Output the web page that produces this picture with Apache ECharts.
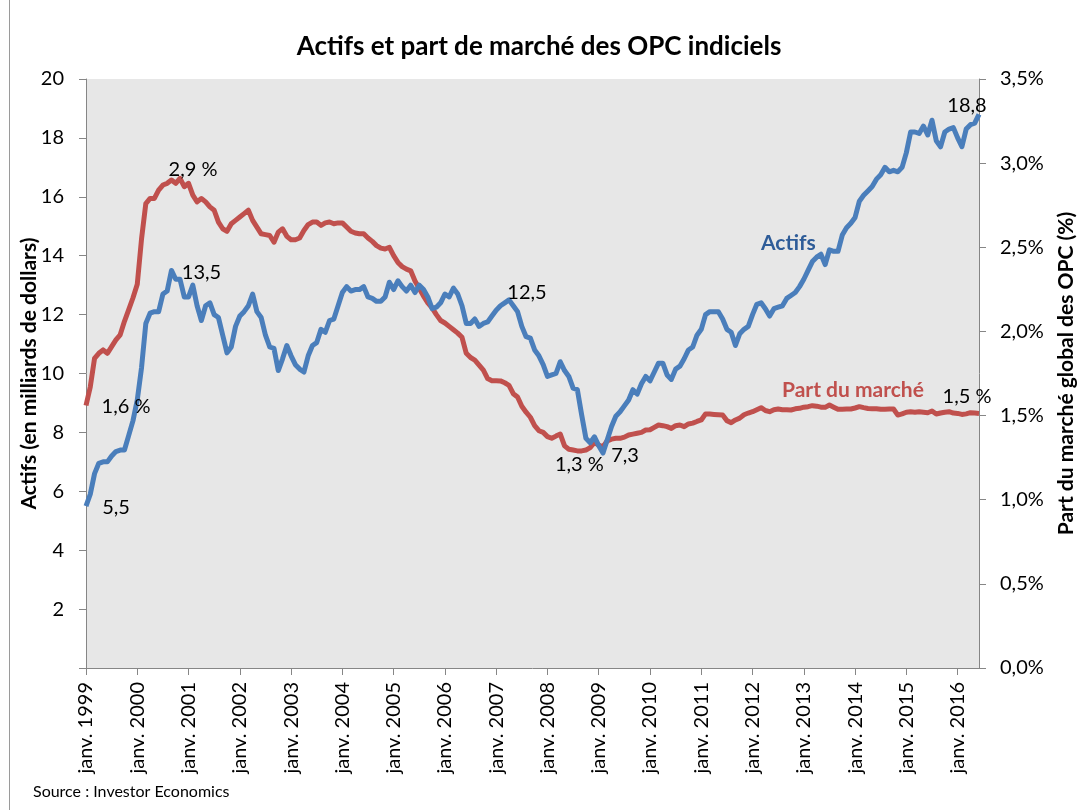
<!DOCTYPE html>
<html>
<head>
<meta charset="utf-8">
<script src="https://cdn.jsdelivr.net/npm/echarts@6/dist/echarts.min.js"></script>
<style>
  html, body { margin: 0; padding: 0; background: #fff; }
  #chart { width: 1078px; height: 810px; }
</style>
</head>
<body>
<div id="chart"></div>
<script>
// mois (seule janvier est affiché sur l'axe)
var monthNames = ['janv.', 'févr.', 'mars', 'avr.', 'mai', 'juin', 'juil.', 'août', 'sept.', 'oct.', 'nov.', 'déc.'];
var startYear = 1999;
var monthCount = 210; // janv. 1999 -> juin 2016

// Actifs (en milliards de dollars), mensuel
var actifs = [
  5.5, 5.9, 6.6, 6.95, 7.0, 7.0, 7.2, 7.35, 7.4, 7.4, 7.9, 8.4,
  9.1, 10.2, 11.7, 12.05, 12.1, 12.1, 12.7, 12.8, 13.5, 13.2, 13.2, 12.6,
  12.6, 13.0, 12.3, 11.8, 12.3, 12.4, 12.0, 11.9, 11.3, 10.7, 10.9, 11.6,
  11.95, 12.1, 12.3, 12.7, 12.1, 11.9, 11.3, 10.9, 10.85, 10.1, 10.5, 10.95,
  10.6, 10.3, 10.15, 10.05, 10.6, 10.95, 11.05, 11.5, 11.4, 11.8, 11.85, 12.3,
  12.75, 12.95, 12.8, 12.85, 12.85, 12.95, 12.6, 12.55, 12.45, 12.45, 12.6, 13.1,
  12.85, 13.15, 12.95, 12.8, 13.0, 12.75, 13.0, 12.85, 12.6, 12.2, 12.25, 12.4,
  12.7, 12.6, 12.9, 12.7, 12.3, 11.7, 11.7, 11.85, 11.6, 11.7, 11.75, 11.95,
  12.15, 12.3, 12.4, 12.5, 12.3, 12.1, 11.6, 11.25, 11.2, 10.8, 10.6, 10.3,
  9.9, 9.95, 10.0, 10.4, 10.1, 9.9, 9.5, 9.45, 8.6, 7.8, 7.65, 7.85,
  7.55, 7.3, 7.75, 8.2, 8.55, 8.7, 8.9, 9.1, 9.45, 9.3, 9.65, 9.9,
  9.75, 10.05, 10.35, 10.35, 9.95, 9.8, 10.15, 10.25, 10.5, 10.8, 10.9, 11.3,
  11.5, 12.0, 12.1, 12.1, 12.1, 11.85, 11.5, 11.4, 10.95, 11.35, 11.5, 11.6,
  12.0, 12.35, 12.4, 12.2, 11.95, 12.2, 12.25, 12.3, 12.55, 12.65, 12.75, 12.95,
  13.2, 13.5, 13.8, 13.95, 14.05, 13.7, 14.2, 14.15, 14.15, 14.7, 14.95, 15.1,
  15.3, 15.85, 16.05, 16.2, 16.35, 16.6, 16.75, 17.0, 16.85, 16.9, 16.85, 17.0,
  17.5, 18.2, 18.2, 18.15, 18.4, 18.1, 18.6, 17.9, 17.7, 18.2, 18.3, 18.35,
  18.0, 17.7, 18.3, 18.45, 18.5, 18.8
];

// Part du marché global des OPC (%), mensuel
var partMarche = [
  1.56, 1.67, 1.84, 1.87, 1.89, 1.87, 1.91, 1.95, 1.98, 2.06, 2.13, 2.20,
  2.28, 2.55, 2.76, 2.79, 2.79, 2.84, 2.87, 2.88, 2.90, 2.88, 2.91, 2.86,
  2.88, 2.81, 2.77, 2.79, 2.77, 2.74, 2.72, 2.65, 2.61, 2.595, 2.64, 2.66,
  2.68, 2.70, 2.72, 2.66, 2.62, 2.58, 2.575, 2.57, 2.53, 2.59, 2.61, 2.565,
  2.545, 2.545, 2.555, 2.60, 2.635, 2.65, 2.65, 2.63, 2.645, 2.65, 2.64, 2.645,
  2.645, 2.62, 2.595, 2.585, 2.58, 2.58, 2.555, 2.535, 2.51, 2.495, 2.49, 2.50,
  2.45, 2.41, 2.385, 2.37, 2.36, 2.30, 2.255, 2.21, 2.17, 2.14, 2.10, 2.065,
  2.05, 2.03, 2.01, 1.99, 1.965, 1.87, 1.845, 1.83, 1.80, 1.77, 1.72, 1.707,
  1.707, 1.706, 1.695, 1.68, 1.63, 1.61, 1.555, 1.52, 1.49, 1.44, 1.41, 1.40,
  1.375, 1.365, 1.378, 1.39, 1.32, 1.30, 1.295, 1.29, 1.29, 1.295, 1.31, 1.34,
  1.325, 1.315, 1.35, 1.36, 1.365, 1.365, 1.372, 1.385, 1.39, 1.395, 1.40, 1.414,
  1.416, 1.43, 1.444, 1.44, 1.434, 1.424, 1.44, 1.444, 1.434, 1.45, 1.455, 1.465,
  1.474, 1.51, 1.509, 1.507, 1.505, 1.503, 1.47, 1.458, 1.474, 1.485, 1.505, 1.515,
  1.523, 1.535, 1.547, 1.53, 1.523, 1.535, 1.539, 1.535, 1.535, 1.533, 1.54, 1.543,
  1.55, 1.553, 1.559, 1.556, 1.55, 1.549, 1.563, 1.55, 1.537, 1.538, 1.539, 1.539,
  1.545, 1.553, 1.547, 1.542, 1.541, 1.54, 1.537, 1.538, 1.539, 1.539, 1.503, 1.51,
  1.52, 1.523, 1.52, 1.523, 1.52, 1.517, 1.527, 1.509, 1.515, 1.52, 1.523, 1.515,
  1.513, 1.507, 1.51, 1.517, 1.515, 1.513
];

// points étiquetés [index, décalage x, décalage y]
var actifsLabels = [[0, 30, 2], [20, 30, 2], [99, 18, -7], [121, 22, 3], [209, -12, -9]];
var partLabels = [[0, 40, 1], [22, 13, -9], [115, 2, 14], [209, -12, -17]];

var categories = [];
for (var i = 0; i < monthCount; i++) {
  categories.push(monthNames[i % 12] + ' ' + (startYear + Math.floor(i / 12)));
}

var FONT = 'Lato';
var axisGray = '#868686';

function fr(v) {
  return v.toFixed(1).replace('.', ',');
}

var chart = echarts.init(document.getElementById('chart'));
chart.setOption({
  animation: false,
  backgroundColor: '#fff',
  textStyle: { fontFamily: FONT },
  title: {
    text: 'Actifs et part de marché des OPC indiciels',
    left: 'center',
    top: 29,
    textStyle: { fontFamily: FONT, fontSize: 26, fontWeight: 'bold', color: '#000' }
  },
  grid: {
    left: 86,
    right: 99,
    top: 79,
    bottom: 142,
    outerBoundsMode: 'none',
    containLabel: false,
    show: true,
    backgroundColor: '#e7e7e7',
    borderWidth: 0
  },
  xAxis: {
    type: 'category',
    data: categories,
    boundaryGap: false,
    axisLine: { lineStyle: { color: axisGray, width: 1 } },
    axisTick: {
      show: true,
      length: 7,
      interval: function (idx) { return idx % 12 === 0; },
      lineStyle: { color: axisGray }
    },
    axisLabel: {
      interval: function (idx) { return idx % 12 === 0; },
      rotate: 90,
      margin: 14,
      fontSize: 20,
      color: '#000',
      fontFamily: FONT,
      hideOverlap: false
    },
    splitLine: { show: false }
  },
  yAxis: [{
    type: 'value',
    min: 0,
    max: 20,
    interval: 2,
    name: 'Actifs (en milliards de dollars)',
    nameLocation: 'middle',
    nameRotate: 90,
    nameGap: 46,
    nameMoveOverlap: false,
    nameTextStyle: { fontFamily: FONT, fontSize: 21, fontWeight: 'bold', color: '#000' },
    axisLine: { show: true, lineStyle: { color: axisGray } },
    axisTick: { show: true, length: 7, lineStyle: { color: axisGray } },
    axisLabel: {
      margin: 22,
      fontSize: 20,
      color: '#000',
      formatter: function (v) { return v === 0 ? '' : String(v); }
    },
    splitLine: { show: false }
  }, {
    type: 'value',
    min: 0,
    max: 3.5,
    interval: 0.5,
    position: 'right',
    name: 'Part du marché global des OPC (%)',
    nameLocation: 'middle',
    nameRotate: 90,
    nameGap: 77,
    nameMoveOverlap: false,
    nameTextStyle: { fontFamily: FONT, fontSize: 21, fontWeight: 'bold', color: '#000' },
    axisLine: { show: true, lineStyle: { color: axisGray } },
    axisTick: { show: true, length: 7, lineStyle: { color: axisGray } },
    axisLabel: {
      margin: 21,
      fontSize: 20,
      color: '#000',
      formatter: function (v) { return fr(v) + '%'; }
    },
    splitLine: { show: false }
  }],
  series: [{
    name: 'Actifs',
    type: 'line',
    yAxisIndex: 0,
    data: actifs,
    showSymbol: false,
    symbol: 'none',
    lineStyle: { color: '#4a7ebb', width: 5, join: 'round' },
    itemStyle: { color: '#4a7ebb' },
    markPoint: {
      symbol: 'circle',
      symbolSize: 0,
      silent: true,
      label: { show: true, position: 'inside', color: '#000', fontSize: 20, fontFamily: FONT },
      data: actifsLabels.map(function (d) {
        return {
          coord: [categories[d[0]], actifs[d[0]]],
          label: { formatter: fr(actifs[d[0]]), offset: [d[1], d[2]] }
        };
      })
    },
    z: 3
  }, {
    name: 'Part du marché',
    type: 'line',
    yAxisIndex: 1,
    data: partMarche,
    showSymbol: false,
    symbol: 'none',
    lineStyle: { color: '#c0504d', width: 5, join: 'round' },
    itemStyle: { color: '#c0504d' },
    markPoint: {
      symbol: 'circle',
      symbolSize: 0,
      silent: true,
      label: { show: true, position: 'inside', color: '#000', fontSize: 20, fontFamily: FONT },
      data: partLabels.map(function (d) {
        return {
          coord: [categories[d[0]], partMarche[d[0]]],
          label: { formatter: fr(partMarche[d[0]]) + ' %', offset: [d[1], d[2]] }
        };
      })
    },
    z: 2
  }],
  graphic: [{
    type: 'line',
    shape: { x1: 9.5, y1: 0, x2: 9.5, y2: 810 },
    style: { stroke: '#9a9a9a', lineWidth: 1 }
  }, {
    type: 'text',
    left: 761,
    top: 233,
    style: { text: 'Actifs', font: 'bold 21px ' + FONT, fill: '#2e5c98' }
  }, {
    type: 'text',
    left: 782,
    top: 380,
    style: { text: 'Part du marché', font: 'bold 21px ' + FONT, fill: '#c0504d' }
  }, {
    type: 'text',
    left: 33,
    top: 784,
    style: { text: 'Source : Investor Economics', font: '16px ' + FONT, fill: '#000' }
  }]
});
</script>
</body>
</html>
